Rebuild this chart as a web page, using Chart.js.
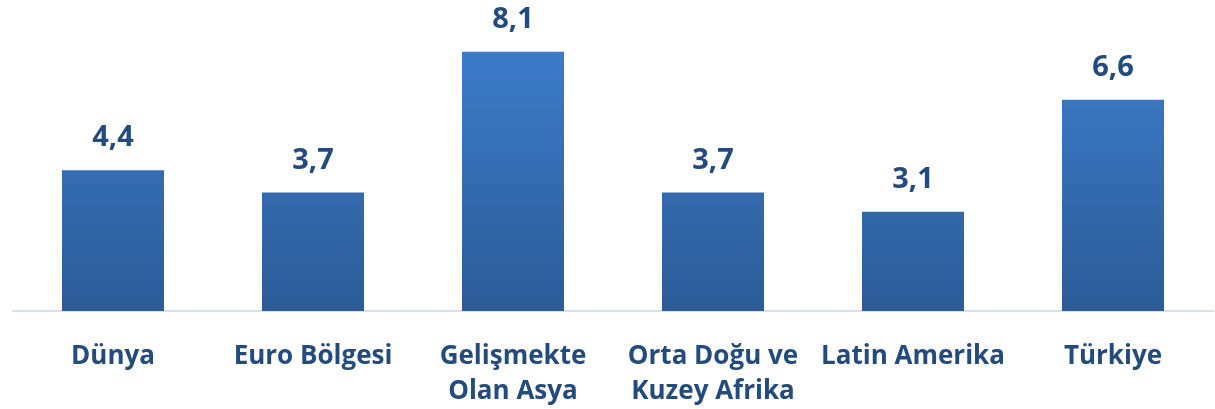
<!DOCTYPE html>
<html>
<head>
<meta charset="utf-8">
<script src="https://cdn.jsdelivr.net/npm/chart.js@4"></script>
<style>
  html, body { margin: 0; padding: 0; background: #fff; }
  #wrap { width: 1215px; height: 409px; }
</style>
</head>
<body>
<div id="wrap"><canvas id="myChart"></canvas></div>
<script>
const categories = [
  "Dünya",
  "Euro Bölgesi",
  ["Gelişmekte", "Olan Asya"],
  ["Orta Doğu ve", "Kuzey Afrika"],
  "Latin Amerika",
  "Türkiye"
];
const values = [4.4, 3.7, 8.1, 3.7, 3.1, 6.6];

const textColor = "#234b7d";

// etiketler barlarin ustune
const valueLabels = {
  id: "valueLabels",
  afterDatasetsDraw(chart) {
    const ctx = chart.ctx;
    const meta = chart.getDatasetMeta(0);
    ctx.save();
    ctx.font = "bold 29px 'Open Sans'";
    ctx.fillStyle = textColor;
    ctx.textAlign = "center";
    ctx.textBaseline = "middle";
    meta.data.forEach((bar, i) => {
      ctx.fillText(values[i].toFixed(1).replace(".", ","), bar.x, bar.y - 32);
    });
    ctx.restore();
  }
};

function barGradient(context) {
  const area = context.chart.chartArea;
  if (!area) return "#3672be";
  const g = context.chart.ctx.createLinearGradient(0, area.top, 0, area.bottom);
  g.addColorStop(0, "#3f82d4");
  g.addColorStop(1, "#2c5b97");
  return g;
}

const config = {
  type: "bar",
  data: {
    labels: categories,
    datasets: [{
      data: values,
      backgroundColor: barGradient,
      borderWidth: 0,
      categoryPercentage: 1,
      barPercentage: 0.51
    }]
  },
  options: {
    responsive: true,
    maintainAspectRatio: false,
    animation: false,
    layout: { padding: { left: 13, right: 2, top: 0, bottom: 0 } },
    plugins: { legend: { display: false }, tooltip: { enabled: false } },
    scales: {
      y: { display: false, min: 0, max: 9.72 },
      x: {
        grid: { display: false },
        border: { display: true, color: "#d6e2f2", width: 2 },
        afterFit(scale) { scale.height = 98; },
        ticks: {
          color: textColor,
          font: { family: "'Open Sans'", size: 26, weight: "bold", lineHeight: 1.35 },
          padding: 20,
          maxRotation: 0,
          autoSkip: false
        }
      }
    }
  },
  plugins: [valueLabels]
};

new Chart(document.getElementById("myChart"), config);
</script>
</body>
</html>
